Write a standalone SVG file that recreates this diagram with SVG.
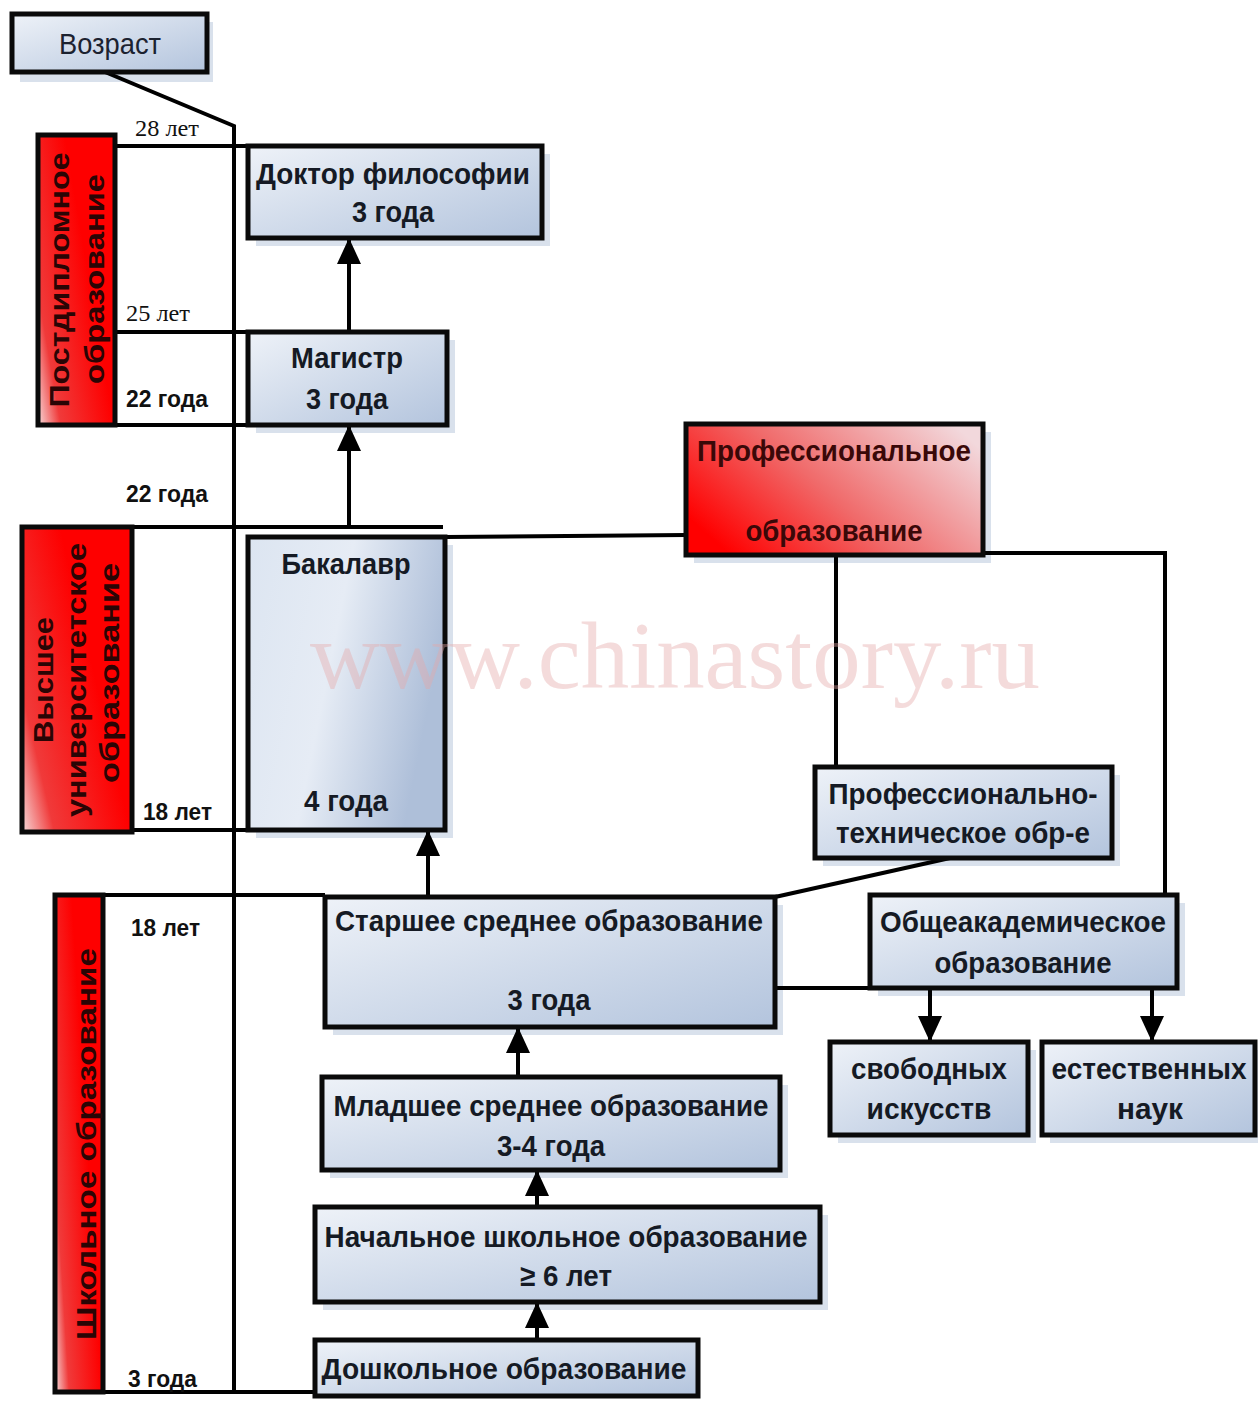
<svg xmlns="http://www.w3.org/2000/svg" width="1258" height="1401" viewBox="0 0 1258 1401">
<defs>
  <linearGradient id="gBlue" x1="0" y1="0" x2="1" y2="1">
    <stop offset="0" stop-color="#eef2f8"/>
    <stop offset="1" stop-color="#b3c4dd"/>
  </linearGradient>
  <linearGradient id="gBak" x1="0" y1="0" x2="1" y2="0.3">
    <stop offset="0" stop-color="#dce5f1"/>
    <stop offset="0.5" stop-color="#e6ecf5"/>
    <stop offset="1" stop-color="#aebfd9"/>
  </linearGradient>
  <linearGradient id="gRed" x1="0" y1="1" x2="0.7" y2="0.55">
    <stop offset="0" stop-color="#f6dada"/>
    <stop offset="0.3" stop-color="#f03a3a"/>
    <stop offset="1" stop-color="#fe0000"/>
  </linearGradient>
  <linearGradient id="gProf" x1="0" y1="0.7" x2="1" y2="0.2">
    <stop offset="0" stop-color="#ff0000"/>
    <stop offset="0.45" stop-color="#f06a6a"/>
    <stop offset="1" stop-color="#f2d8dc"/>
  </linearGradient>
  <marker id="arr" markerUnits="userSpaceOnUse" markerWidth="26" markerHeight="28" refX="24" refY="12" orient="auto">
    <path d="M0,0 L26,12 L0,24 Z" fill="#000"/>
  </marker>
  <style>
    .box{fill:url(#gBlue);stroke:#0a0a0a;stroke-width:5}
    .bak{fill:url(#gBak);stroke:#0a0a0a;stroke-width:5}
    .red{fill:url(#gRed);stroke:#0a0a0a;stroke-width:5}
    .prof{fill:url(#gProf);stroke:#0a0a0a;stroke-width:5}
    .sh{fill:#d9e1ec}
    .t{font-family:"Liberation Sans",Arial,sans-serif;font-weight:bold;font-size:30px;fill:#151a24;text-anchor:middle}
    .tr{font-family:"Liberation Sans",Arial,sans-serif;font-size:29px;fill:#1c2230;text-anchor:middle}
    .ta{font-family:"Liberation Sans",Arial,sans-serif;font-weight:bold;font-size:23px;fill:#111}
    .ts{font-family:"Liberation Serif","Times New Roman",serif;font-size:23px;fill:#111}
    .tv{font-family:"Liberation Sans",Arial,sans-serif;font-weight:bold;font-size:28px;fill:#2a0505;text-anchor:middle}
    .tp{font-family:"Liberation Sans",Arial,sans-serif;font-weight:bold;font-size:29px;fill:#3a0808;text-anchor:middle}
    .ln{fill:none;stroke:#000;stroke-width:4}
    .wm{font-family:"Liberation Serif","Times New Roman",serif;font-size:95px;fill:#e6a8a8;opacity:0.4}
  </style>
</defs>
<rect width="1258" height="1401" fill="#fff"/>

<g id="shadows">
  <rect class="sh" x="20" y="22" width="193" height="60"/>
  <rect class="sh" x="256" y="154" width="294" height="92"/>
  <rect class="sh" x="256" y="340" width="199" height="93"/>
  <rect class="sh" x="256" y="545" width="197" height="293"/>
  <rect class="sh" x="694" y="432" width="297" height="131"/>
  <rect class="sh" x="823" y="775" width="297" height="91"/>
  <rect class="sh" x="333" y="905" width="450" height="130"/>
  <rect class="sh" x="878" y="903" width="307" height="93"/>
  <rect class="sh" x="838" y="1050" width="198" height="93"/>
  <rect class="sh" x="1050" y="1050" width="208" height="93"/>
  <rect class="sh" x="330" y="1085" width="458" height="93"/>
  <rect class="sh" x="323" y="1215" width="505" height="95"/>
</g>

<g id="connectors">
  <path class="ln" d="M105,72 L234,126 L234,1392"/>
  <path class="ln" d="M115,146 H248"/>
  <path class="ln" d="M115,332 H248"/>
  <path class="ln" d="M115,425 H248"/>
  <path class="ln" d="M22,527 H443"/>
  <path class="ln" d="M132,830 H330"/>
  <path class="ln" d="M55,895 H325"/>
  <path class="ln" d="M55,1392 H315"/>
  <path class="ln" d="M445,537 L686,535"/>
  <path class="ln" d="M836,555 V767"/>
  <path class="ln" d="M983,553 H1165 V895"/>
  <path class="ln" d="M950,858 L775,897"/>
  <path class="ln" d="M767,988 H870"/>
  <path class="ln" d="M349,332 V240" marker-end="url(#arr)"/>
  <path class="ln" d="M349,527 V427" marker-end="url(#arr)"/>
  <path class="ln" d="M428,895 V832" marker-end="url(#arr)"/>
  <path class="ln" d="M518,1077 V1029" marker-end="url(#arr)"/>
  <path class="ln" d="M537,1207 V1172" marker-end="url(#arr)"/>
  <path class="ln" d="M537,1340 V1304" marker-end="url(#arr)"/>
  <path class="ln" d="M930,988 V1040" marker-end="url(#arr)"/>
  <path class="ln" d="M1152,988 V1040" marker-end="url(#arr)"/>
</g>

<g id="n-vozrast">
  <rect class="box" x="12" y="14" width="195" height="58"/>
  <text class="tr" x="110" y="54" textLength="102" lengthAdjust="spacingAndGlyphs">Возраст</text>
</g>

<g id="n-post">
  <rect class="red" x="38" y="135" width="77" height="290"/>
  <text class="tv" transform="translate(69,280) rotate(-90)" textLength="255" lengthAdjust="spacingAndGlyphs">Постдипломное</text>
  <text class="tv" transform="translate(104,279) rotate(-90)" textLength="210" lengthAdjust="spacingAndGlyphs">образование</text>
</g>

<g id="n-vysshee">
  <rect class="red" x="22" y="527" width="110" height="305"/>
  <text class="tv" transform="translate(53,680) rotate(-90)" textLength="126" lengthAdjust="spacingAndGlyphs">Высшее</text>
  <text class="tv" transform="translate(86,680) rotate(-90)" textLength="274" lengthAdjust="spacingAndGlyphs">университетское</text>
  <text class="tv" transform="translate(119,673) rotate(-90)" textLength="220" lengthAdjust="spacingAndGlyphs">образование</text>
</g>

<g id="n-shkolnoe">
  <rect class="red" x="55" y="895" width="48" height="497"/>
  <text class="tv" transform="translate(96,1144) rotate(-90)" textLength="392" lengthAdjust="spacingAndGlyphs">Школьное образование</text>
</g>

<g id="ages">
  <text class="ts" x="135" y="136" textLength="64" lengthAdjust="spacingAndGlyphs">28 лет</text>
  <text class="ts" x="126" y="321" textLength="64" lengthAdjust="spacingAndGlyphs">25 лет</text>
  <text class="ta" x="126" y="407" textLength="82" lengthAdjust="spacingAndGlyphs">22 года</text>
  <text class="ta" x="126" y="502" textLength="82" lengthAdjust="spacingAndGlyphs">22 года</text>
  <text class="ta" x="143" y="820" textLength="69" lengthAdjust="spacingAndGlyphs">18 лет</text>
  <text class="ta" x="131" y="936" textLength="69" lengthAdjust="spacingAndGlyphs">18 лет</text>
  <text class="ta" x="128" y="1387" textLength="69" lengthAdjust="spacingAndGlyphs">3 года</text>
</g>

<g id="n-doktor">
  <rect class="box" x="248" y="146" width="294" height="92"/>
  <text class="t" x="393" y="184" textLength="274" lengthAdjust="spacingAndGlyphs">Доктор философии</text>
  <text class="t" x="393" y="222" textLength="82" lengthAdjust="spacingAndGlyphs">3 года</text>
</g>

<g id="n-magistr">
  <rect class="box" x="248" y="332" width="199" height="93"/>
  <text class="t" x="347" y="368" textLength="112" lengthAdjust="spacingAndGlyphs">Магистр</text>
  <text class="t" x="347" y="409" textLength="82" lengthAdjust="spacingAndGlyphs">3 года</text>
</g>

<g id="n-bakalavr">
  <rect class="bak" x="248" y="537" width="197" height="293"/>
  <text class="t" x="346" y="574" textLength="129" lengthAdjust="spacingAndGlyphs">Бакалавр</text>
  <text class="t" x="346" y="811" textLength="84" lengthAdjust="spacingAndGlyphs">4 года</text>
</g>

<g id="n-prof">
  <rect class="prof" x="686" y="424" width="297" height="131"/>
  <text class="tp" x="834" y="461" textLength="274" lengthAdjust="spacingAndGlyphs">Профессиональное</text>
  <text class="tp" x="834" y="541" textLength="177" lengthAdjust="spacingAndGlyphs">образование</text>
</g>

<g id="n-proftech">
  <rect class="box" x="815" y="767" width="297" height="91"/>
  <text class="t" x="963" y="804" textLength="269" lengthAdjust="spacingAndGlyphs">Профессионально-</text>
  <text class="t" x="963" y="843" textLength="254" lengthAdjust="spacingAndGlyphs">техническое обр-е</text>
</g>

<g id="n-starshee">
  <rect class="box" x="325" y="897" width="450" height="130"/>
  <text class="t" x="549" y="931" textLength="428" lengthAdjust="spacingAndGlyphs">Старшее среднее образование</text>
  <text class="t" x="549" y="1010" textLength="83" lengthAdjust="spacingAndGlyphs">3 года</text>
</g>

<g id="n-obshche">
  <rect class="box" x="870" y="895" width="307" height="93"/>
  <text class="t" x="1023" y="932" textLength="286" lengthAdjust="spacingAndGlyphs">Общеакадемическое</text>
  <text class="t" x="1023" y="973" textLength="177" lengthAdjust="spacingAndGlyphs">образование</text>
</g>

<g id="n-svobodnyh">
  <rect class="box" x="830" y="1042" width="198" height="93"/>
  <text class="t" x="929" y="1079" textLength="156" lengthAdjust="spacingAndGlyphs">свободных</text>
  <text class="t" x="929" y="1119" textLength="125" lengthAdjust="spacingAndGlyphs">искусств</text>
</g>

<g id="n-estestv">
  <rect class="box" x="1042" y="1042" width="213" height="93"/>
  <text class="t" x="1149" y="1079" textLength="195" lengthAdjust="spacingAndGlyphs">естественных</text>
  <text class="t" x="1150" y="1119" textLength="66" lengthAdjust="spacingAndGlyphs">наук</text>
</g>

<g id="n-mladshee">
  <rect class="box" x="322" y="1077" width="458" height="93"/>
  <text class="t" x="551" y="1116" textLength="435" lengthAdjust="spacingAndGlyphs">Младшее среднее образование</text>
  <text class="t" x="551" y="1156" textLength="108" lengthAdjust="spacingAndGlyphs">3-4 года</text>
</g>

<g id="n-nachalnoe">
  <rect class="box" x="315" y="1207" width="505" height="95"/>
  <text class="t" x="566" y="1247" textLength="483" lengthAdjust="spacingAndGlyphs">Начальное школьное образование</text>
  <text class="t" x="566" y="1286" textLength="92" lengthAdjust="spacingAndGlyphs">≥ 6 лет</text>
</g>

<g id="n-doshkolnoe">
  <rect class="box" x="315" y="1340" width="383" height="56"/>
  <text class="t" x="504" y="1379" textLength="365" lengthAdjust="spacingAndGlyphs">Дошкольное образование</text>
</g>

<text class="wm" x="310" y="688" textLength="730" lengthAdjust="spacingAndGlyphs">www.chinastory.ru</text>
</svg>
